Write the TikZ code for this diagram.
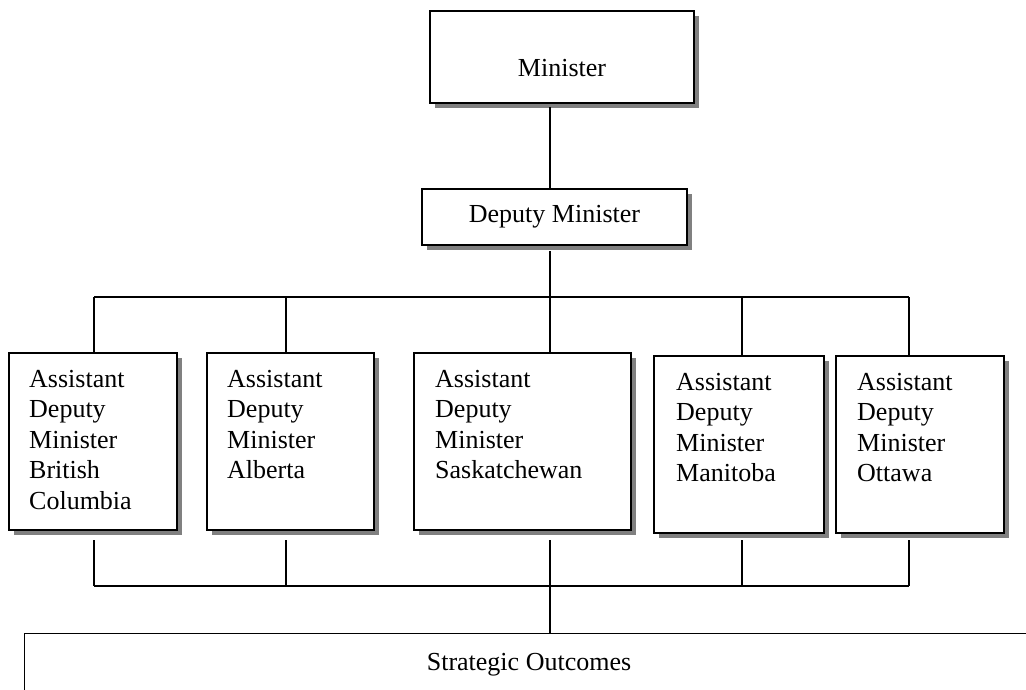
\documentclass[tikz,border=0pt]{standalone}
\usepackage{fontspec}
\setmainfont{Liberation Serif}
\usetikzlibrary{shadows}
\definecolor{shade}{HTML}{808080}
\begin{document}
\begin{tikzpicture}[x=1pt,y=-1pt,
  box/.style={draw, line width=2pt, fill=white, inner sep=0pt,
    drop shadow={shadow xshift=5pt, shadow yshift=-5pt, fill=shade, opacity=1}},
  big/.style={font=\fontsize{26}{30.5}\selectfont},
  lbl/.style={big, inner sep=0pt, align=left},
  conn/.style={line width=1.4pt}]
\useasboundingbox (0,0) rectangle (1026,690);
\clip (0,0) rectangle (1026,690);

% top boxes
\node[box, big, minimum width=264pt, text height=66pt, text depth=26pt] (min) at (562,57) {Minister};
\node[box, big, minimum width=265pt, minimum height=56pt] (dep) at (554.5,217) {Deputy Minister};

% assistant deputy minister boxes
\node[box, anchor=north west, minimum width=168pt, minimum height=177pt] (adm1) at (8,352) {};
\node[box, anchor=north west, minimum width=167pt, minimum height=177pt] (adm2) at (206,352) {};
\node[box, anchor=north west, minimum width=217pt, minimum height=177pt] (adm3) at (413,352) {};
\node[box, anchor=north west, minimum width=170pt, minimum height=177pt] (adm4) at (653,355) {};
\node[box, anchor=north west, minimum width=168pt, minimum height=177pt] (adm5) at (835,355) {};

% labels (base anchor = baseline of last line)
\node[lbl, anchor=base west] (l1) at (29,509) {Assistant\\Deputy\\Minister\\British\\Columbia};
\node[lbl, anchor=base west] (l2) at (227,478.5) {Assistant\\Deputy\\Minister\\Alberta};
\node[lbl, anchor=base west] (l3) at (435,478.5) {Assistant\\Deputy\\Minister\\Saskatchewan};
\node[lbl, anchor=base west] (l4) at (676,481.5) {Assistant\\Deputy\\Minister\\Manitoba};
\node[lbl, anchor=base west] (l5) at (857,481.5) {Assistant\\Deputy\\Minister\\Ottawa};

% strategic outcomes
\node[draw, line width=1.4pt, inner sep=0pt, anchor=north west, minimum width=1010pt, minimum height=100pt] (so) at (24,633) {};
\node[lbl, anchor=base] (solbl) at (529,670) {Strategic Outcomes};

% bus coordinates
\coordinate (tb1) at (94,297);
\coordinate (tb2) at (286,297);
\coordinate (tb3) at (550,297);
\coordinate (tb4) at (742,297);
\coordinate (tb5) at (909,297);
\coordinate (bb1) at (94,586);
\coordinate (bb2) at (286,586);
\coordinate (bb3) at (550,586);
\coordinate (bb4) at (742,586);
\coordinate (bb5) at (909,586);

% connectors
\draw[conn] ([yshift=-3pt]min.south -| tb3) -- (dep.north -| tb3);
\draw[conn] ([yshift=-5pt]dep.south -| tb3) -- (adm3.north -| tb3);
\draw[conn] (tb1) -- (tb5);
\foreach \i in {1,2,4,5} {
  \draw[conn] (tb\i) -- (adm\i.north -| tb\i);
}
\draw[conn] (bb1) -- (bb5);
\foreach \i/\s in {1/9,2/9,3/9,4/6,5/6} {
  \draw[conn] ([yshift=-\s pt]adm\i.south -| bb\i) -- (bb\i);
}
\draw[conn] (bb3) -- (so.north -| bb3);
\end{tikzpicture}
\end{document}
